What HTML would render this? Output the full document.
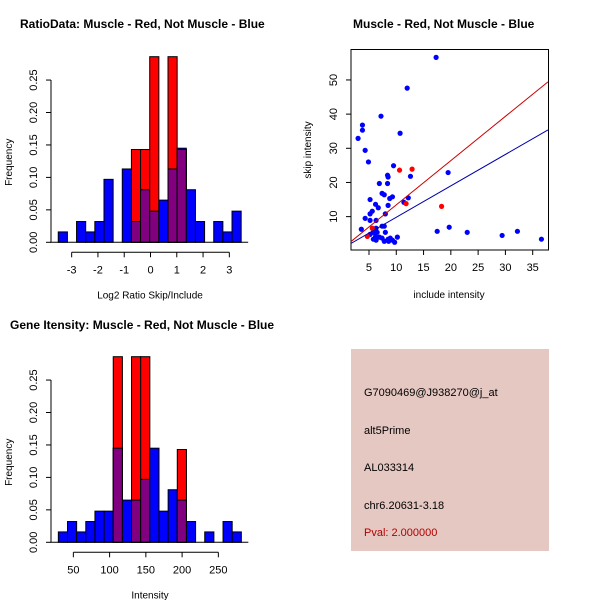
<!DOCTYPE html>
<html><head><meta charset="utf-8"><style>
body{margin:0;background:#fff}
svg{display:block;font-family:"Liberation Sans",sans-serif}
</style></head><body>
<svg id="s" width="600" height="600" viewBox="0 0 600 600">
<rect width="600" height="600" fill="#fff"/>
<text x="20" y="28" font-size="12" font-weight="bold">RatioData: Muscle - Red, Not Muscle - Blue</text>
<text x="353" y="28" font-size="12" font-weight="bold">Muscle - Red, Not Muscle - Blue</text>
<text x="10" y="329" font-size="12" font-weight="bold">Gene Itensity: Muscle - Red, Not Muscle - Blue</text>
<g>
<rect x="351" y="349" width="198" height="202" fill="#e6c8c2"/>
<g font-size="11" fill="#000">
<text x="364" y="396">G7090469@J938270@j_at</text>
<text x="364" y="434">alt5Prime</text>
<text x="364" y="471">AL033314</text>
<text x="364" y="509">chr6.20631-3.18</text>
<text x="364" y="536" fill="#b00000">Pval: 2.000000</text>
</g></g>
</svg>
<script>
// Ratio histogram data
const ratioBreakStart = -3.51, ratioBinWidth = 0.348;
const ratioBlue = [0.016,0,0.032,0.016,0.032,0.097,0,0.113,0.032,0.081,0.048,0.065,0.113,0.145,0.081,0.032,0,0.032,0.016,0.048];
const ratioRed  = [0,0,0,0,0,0,0,0,0.143,0.143,0.286,0,0.286,0.143,0,0,0,0,0,0];
const ratioTicks = [-3,-2,-1,0,1,2,3];
// Intensity histogram data
const intBreakStart = 29.3, intBinWidth = 12.62;
const intBlue = [0.016,0.032,0.016,0.032,0.048,0.048,0.145,0.065,0.065,0.097,0.145,0.048,0.081,0.065,0.032,0,0.016,0,0.032,0.016];
const intRed  = [0,0,0,0,0,0,0.286,0,0.286,0.286,0,0,0,0.143,0,0,0,0,0,0];
const intTicks = [50,100,150,200,250];
const freqTicks = [0,0.05,0.10,0.15,0.20,0.25];
const freqLabels = ["0.00","0.05","0.10","0.15","0.20","0.25"];
// Scatter data
const blueX = [17.3,12.0,7.2,3.8,3.8,3.0,10.7,4.3,4.9,9.5,19.5,8.4,8.5,12.6,6.9,8.4,7.4,7.8,9.3,8.8,12.2,11.4,5.2,6.2,6.7,8.5,5.6,5.2,8.0,4.3,5.2,6.3,3.6,6.3,5.8,7.4,7.8,6.5,8.0,5.2,6.2,6.9,7.4,5.8,6.3,7.8,8.5,8.6,8.9,9.3,9.7,10.2,17.5,19.7,23.0,29.4,32.2,36.6];
const blueY = [56.6,47.6,39.4,36.8,35.3,32.9,34.4,29.4,26.0,24.9,22.9,22.1,21.6,21.8,19.7,19.7,16.8,16.4,15.8,15.3,15.5,14.2,15.0,13.6,12.6,13.3,11.6,10.8,10.8,9.5,8.9,8.9,6.3,6.6,5.4,7.2,7.2,5.4,5.4,4.8,4.2,4.0,3.7,3.4,3.1,2.8,3.4,2.8,3.7,3.1,2.5,4.0,5.7,6.9,5.4,4.5,5.7,3.4];
const redX = [10.6,12.9,18.3,11.8,4.7,5.6];
const redY = [23.6,23.9,13.0,13.8,4.2,6.6];
const redLine = [1.295,0.5];   // slope, intercept
const blueLine = [0.92,0.6];
const sxTicks = [5,10,15,20,25,30,35];
const syTicks = [10,20,30,40,50];

const NS="http://www.w3.org/2000/svg", svg=document.getElementById('s');
function mk(tag,attrs,parent){const e=document.createElementNS(NS,tag);for(const k in attrs)e.setAttribute(k,attrs[k]);(parent||svg).appendChild(e);return e;}

function hist(cfg){
  const g=mk('g',{});
  
  
  const X=v=>cfg.x0+v*cfg.xs, Y=v=>cfg.y0-v*cfg.ys;
  const n=cfg.blue.length;
  for(let i=0;i<n;i++){
    const l=X(cfg.start+i*cfg.w), r=X(cfg.start+(i+1)*cfg.w);
    const b=cfg.blue[i], rd=cfg.red[i];
    if(b>0){const e=mk('rect',{x:l,y:Y(b),width:r-l,height:Y(0)-Y(b),fill:'#0000ff',stroke:'#000','stroke-width':1},g);
      }
    if(rd>0){const e=mk('rect',{x:l,y:Y(rd),width:r-l,height:Y(0)-Y(rd),fill:'#ff0000',stroke:'#000','stroke-width':1},g);
      }
    const m=Math.min(b,rd);
    if(m>0){const e=mk('rect',{x:l,y:Y(m),width:r-l,height:Y(0)-Y(m),fill:'#800080',stroke:'#000','stroke-width':1},g);
      }
  }
  const ax=51;
  mk('line',{x1:ax,y1:Y(0),x2:ax,y2:Y(0.25),stroke:'#000'},g);
  freqTicks.forEach((t,i)=>{
    mk('line',{x1:ax-5,y1:Y(t),x2:ax,y2:Y(t),stroke:'#000'},g);
    const tx=mk('text',{x:0,y:0,'font-size':11,'text-anchor':'middle',transform:`translate(${ax-14},${Y(t)}) rotate(-90)`},g);
    tx.textContent=freqLabels[i];
  });
  mk('line',{x1:X(cfg.start)-8,y1:Y(0),x2:X(cfg.start+n*cfg.w)+7,y2:Y(0),stroke:'#000'},g);
  const ay=cfg.y0+10;
  mk('line',{x1:X(cfg.ticks[0]),y1:ay,x2:X(cfg.ticks[cfg.ticks.length-1]),y2:ay,stroke:'#000'},g);
  cfg.ticks.forEach(t=>{
    mk('line',{x1:X(t),y1:ay,x2:X(t),y2:ay+5,stroke:'#000'},g);
    const tx=mk('text',{x:X(t),y:ay+21,'font-size':11,'text-anchor':'middle'},g);tx.textContent=t;
  });
  const xl=mk('text',{x:cfg.xlx,y:cfg.y0+56,'font-size':10,'text-anchor':'middle'},g);
  xl.textContent=cfg.xlabel;
  const yl=mk('text',{x:0,y:0,'font-size':10,'text-anchor':'middle',transform:`translate(12,${cfg.y0-80}) rotate(-90)`},g);
  yl.textContent='Frequency';
}
hist({name:'ratio-histogram',x0:150.5,xs:26.28,y0:242.3,ys:649,start:ratioBreakStart,w:ratioBinWidth,blue:ratioBlue,red:ratioRed,ticks:ratioTicks,xlabel:'Log2 Ratio Skip/Include',xlx:150});
hist({name:'intensity-histogram',x0:37.1,xs:0.725,y0:542.3,ys:649,start:intBreakStart,w:intBinWidth,blue:intBlue,red:intRed,ticks:intTicks,xlabel:'Intensity',xlx:150});

(function(){
  const g=mk('g',{});
  
  
  const X=v=>341.7+v*5.457, Y=v=>250.8-v*3.417;
  mk('rect',{x:351,y:49.5,width:197.5,height:200.5,fill:'none',stroke:'#000'},g);
  sxTicks.forEach(t=>{mk('line',{x1:X(t),y1:250,x2:X(t),y2:255,stroke:'#000'},g);
    const tx=mk('text',{x:X(t),y:271,'font-size':11,'text-anchor':'middle'},g);tx.textContent=t;});
  syTicks.forEach(t=>{mk('line',{x1:346,y1:Y(t),x2:351,y2:Y(t),stroke:'#000'},g);
    const tx=mk('text',{x:0,y:0,'font-size':11,'text-anchor':'middle',transform:`translate(337,${Y(t)}) rotate(-90)`},g);tx.textContent=t;});
  const xl=mk('text',{x:449,y:298,'font-size':10,'text-anchor':'middle'},g);
  xl.textContent='include intensity';
  const yl=mk('text',{x:0,y:0,'font-size':10,'text-anchor':'middle',transform:'translate(311,150) rotate(-90)'},g);
  yl.textContent='skip intensity';
  const cp=mk('clipPath',{id:'cp'},g);mk('rect',{x:351,y:49.5,width:197.5,height:200.5},cp);
  const pts=mk('g',{'clip-path':'url(#cp)'},g);
  blueX.forEach((v,i)=>{const c=mk('circle',{cx:X(v),cy:Y(blueY[i]),r:2.6,fill:'#0000ff'},pts);
    });
  redX.forEach((v,i)=>{const c=mk('circle',{cx:X(v),cy:Y(redY[i]),r:2.6,fill:'#ff0000'},pts);
    });
  const x1=1.7,x2=37.8;
  const rl=mk('line',{x1:X(x1),y1:Y(redLine[0]*x1+redLine[1]),x2:X(x2),y2:Y(redLine[0]*x2+redLine[1]),stroke:'#cc0000'},pts);
  
  const bl=mk('line',{x1:X(x1),y1:Y(blueLine[0]*x1+blueLine[1]),x2:X(x2),y2:Y(blueLine[0]*x2+blueLine[1]),stroke:'#0000aa'},pts);
  
})();
</script>
</body></html>
